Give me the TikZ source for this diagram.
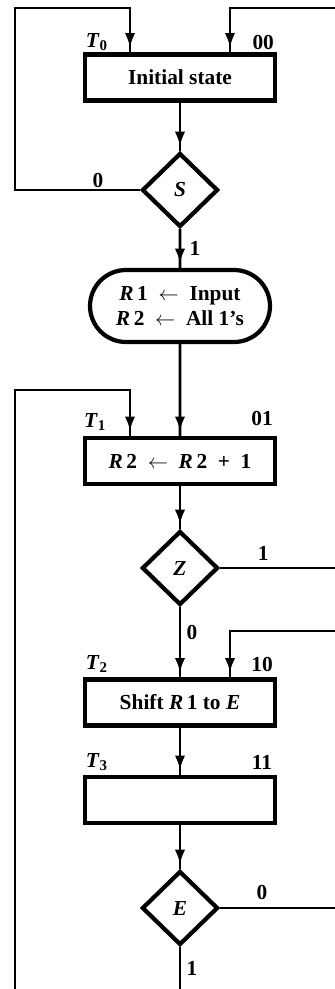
\documentclass[tikz,border=0pt]{standalone}
\usepackage{fontspec}
\setmainfont{Liberation Serif}
\usetikzlibrary{positioning, arrows.meta, shapes, decorations.markings, calc}

\begin{document}
\begin{tikzpicture}[
    font=\fontsize{15.2}{17.5}\selectfont\bfseries,
    caixa/.style={draw, line width=3.2pt, minimum width=4.75cm, minimum height=1.15cm, inner sep=0pt},
    decisao/.style={draw, diamond, line width=3pt, minimum width=1.9cm, minimum height=1.85cm, inner sep=0pt},
    fluxo/.style={line width=1.9pt, postaction={decorate},
        decoration={markings, mark=at position -0.12cm with {\arrow{Latex[length=0.36cm, width=0.26cm]}}}},
    linha/.style={line width=1.9pt},
    rotulo/.style={inner sep=0pt}
  ]
    \useasboundingbox (0,0) rectangle (8.375,-24.725);
    % Caixas e decisões
    \node[caixa] (inicial) at (4.5,-1.9375) {Initial state};
    \node[decisao] (s) at (4.5,-4.75) {\textit{S}};
    \node[draw, rounded rectangle, line width=3pt, minimum width=4.5cm, minimum height=1.8cm,
          inner sep=0pt, align=center] (carga) at (4.5,-7.65)
          {\textit{R}\,1 \ $\leftarrow$ \ Input\\\textit{R}\,2 \ $\leftarrow$ \ All 1's};
    \node[caixa] (incr) at (4.5,-11.525) {\textit{R}\,2 \ $\leftarrow$ \ \textit{R}\,2 \ + \ 1};
    \node[decisao] (z) at (4.5,-14.2) {\textit{Z}};
    \node[caixa] (desloca) at (4.5,-17.5625) {Shift \textit{R}\,1 to \textit{E}};
    \node[caixa] (vazio) at (4.5,-20.0) {};
    \node[decisao] (e) at (4.5,-22.7) {\textit{E}};
    % Pontas livres nas margens
    \coordinate (topoesq) at (0.375,-0.2);
    \coordinate (topodir) at (8.375,-0.2);
    \coordinate (laco) at (0.375,-9.75);
    \coordinate (baseesq) at (0.375,-24.725);
    \coordinate (saidaz) at (8.375,-14.2);
    \coordinate (voltadir) at (8.375,-15.775);
    \coordinate (saidae) at (8.375,-22.7);
    \coordinate (base) at (4.5,-24.725);
    % Setas
    \draw[fluxo] (s.west) -| (topoesq) -| ([xshift=-1.25cm]inicial.north);
    \draw[fluxo] (topodir) -| ([xshift=1.25cm]inicial.north);
    \draw[fluxo] (inicial) -- (s);
    \draw[fluxo] (s) -- (carga);
    \draw[fluxo] (carga) -- (incr);
    \draw[fluxo] (baseesq) -- (laco) -| ([xshift=-1.25cm]incr.north);
    \draw[fluxo] (incr) -- (z);
    \draw[linha] (z.east) -- (saidaz);
    \draw[fluxo] (z) -- (desloca);
    \draw[fluxo] (voltadir) -| ([xshift=1.25cm]desloca.north);
    \draw[fluxo] (desloca) -- (vazio);
    \draw[fluxo] (vazio) -- (e);
    \draw[linha] (e.east) -- (saidae);
    \draw[linha] (e) -- (base);
    % Rótulos de estado e de saída
    \node[rotulo] (t0) at (2.42,-1.05) {\textit{T}\textsubscript{0}};
    \node[rotulo] (c00) at (6.58,-1.05) {00};
    \node[rotulo] (s0) at (2.45,-4.5) {0};
    \node[rotulo] (s1) at (4.875,-6.2) {1};
    \node[rotulo] (t1) at (2.375,-10.55) {\textit{T}\textsubscript{1}};
    \node[rotulo] (c01) at (6.55,-10.45) {01};
    \node[rotulo] (z1) at (6.58,-13.83) {1};
    \node[rotulo] (z0) at (4.8,-15.8) {0};
    \node[rotulo] (t2) at (2.42,-16.6) {\textit{T}\textsubscript{2}};
    \node[rotulo] (c10) at (6.55,-16.6) {10};
    \node[rotulo] (t3) at (2.42,-19.05) {\textit{T}\textsubscript{3}};
    \node[rotulo] (c11) at (6.55,-19.05) {11};
    \node[rotulo] (e0) at (6.55,-22.3) {0};
    \node[rotulo] (e1) at (4.8,-24.2) {1};
  \end{tikzpicture}
\end{document}
